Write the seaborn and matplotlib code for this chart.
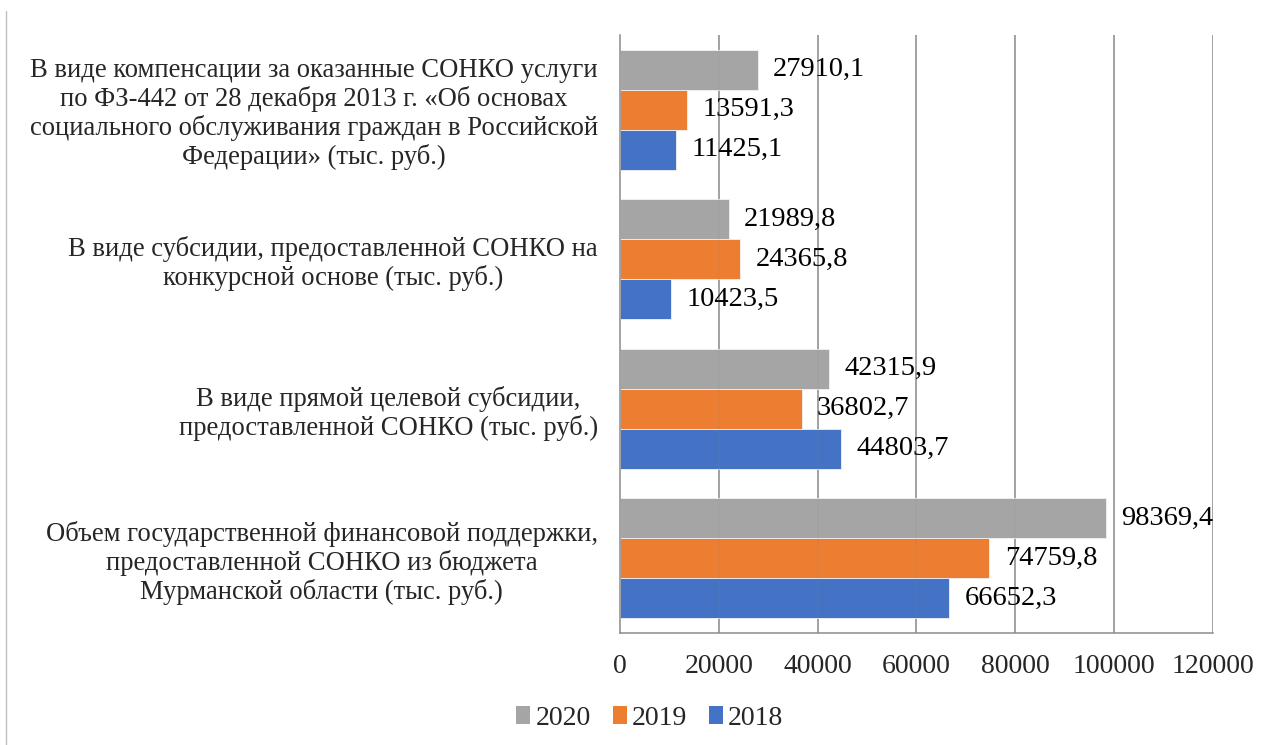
import numpy as np
import pandas as pd
import matplotlib
matplotlib.use("Agg")
import matplotlib.pyplot as plt
import seaborn as sns
from matplotlib.lines import Line2D
from matplotlib.patches import Patch

categories = [
    "В виде компенсации за оказанные СОНКО услуги\nпо ФЗ-442 от 28 декабря 2013 г. «Об основах\nсоциального обслуживания граждан в Российской\nФедерации» (тыс. руб.)",
    "В виде субсидии, предоставленной СОНКО на\nконкурсной основе (тыс. руб.)",
    "В виде прямой целевой субсидии,\nпредоставленной СОНКО (тыс. руб.)",
    "Объем государственной финансовой поддержки,\nпредоставленной СОНКО из бюджета\nМурманской области (тыс. руб.)",
]
years = ["2020", "2019", "2018"]
v2020 = [27910.1, 21989.8, 42315.9, 98369.4]
v2019 = [13591.3, 24365.8, 36802.7, 74759.8]
v2018 = [11425.1, 10423.5, 44803.7, 66652.3]
colors = ["#A5A5A5", "#ED7D31", "#4472C4"]
xticks = [0, 20000, 40000, 60000, 80000, 100000, 120000]

df = pd.DataFrame({
    "cat": categories * 3,
    "year": ["2020"] * 4 + ["2019"] * 4 + ["2018"] * 4,
    "val": v2020 + v2019 + v2018,
})

sns.set_style("white")
plt.rcParams["font.family"] = ["Liberation Serif", "DejaVu Serif"]

fig = plt.figure(figsize=(12.72, 7.45), dpi=100)
ax = fig.add_axes([0.4874, 0.1503, 0.4662, 0.8027])

sns.barplot(data=df, y="cat", x="val", hue="year", hue_order=years,
            order=categories, palette=colors, saturation=1, orient="h", width=0.8,
            edgecolor="#f2f2f2", linewidth=0.6, ax=ax, legend=False, zorder=2)

for cont in ax.containers:
    labs = [f"{b.get_width():.1f}".replace(".", ",") for b in cont]
    ax.bar_label(cont, labels=labs, padding=11, fontsize=20.5, color="black")

ax.set_xlim(0, 120000)
ax.set_xticks(xticks)
ax.set_xticklabels([str(t) for t in xticks], fontsize=20)
ax.set_yticks(range(len(categories)))
ax.set_yticklabels(categories, fontsize=19.2, multialignment="center",
                   linespacing=1.15)
ax.tick_params(axis="y", length=0, pad=16)
ax.tick_params(axis="x", length=0, pad=15)
ax.set_xlabel("")
ax.set_ylabel("")
ax.set_ylim(3.5, -0.5)

for t in xticks[1:]:
    ax.axvline(t, color="#8c8c8c", lw=1.1, zorder=1)
    ax.axvline(t, color="#8c8c8c", lw=1.1, alpha=0.12, zorder=3)

for s in ["top", "right"]:
    ax.spines[s].set_visible(False)
ax.spines["left"].set_color("#8c8c8c")
ax.spines["bottom"].set_color("#8c8c8c")
ax.spines["left"].set_linewidth(1.1)
ax.spines["bottom"].set_linewidth(1.1)

handles = [Patch(facecolor=c, edgecolor="none") for c in colors]
fig.legend(handles, years, loc="center", bbox_to_anchor=(0.511, 0.036), ncol=3,
           frameon=False, fontsize=20, handlelength=0.5, handleheight=0.6,
           handletextpad=0.18, columnspacing=0.8)

fig.add_artist(Line2D([0.005, 0.005], [0.0, 0.985], color="#bfbfbf", lw=1.0,
                      transform=fig.transFigure))

fig.savefig("out.png", dpi=100)
